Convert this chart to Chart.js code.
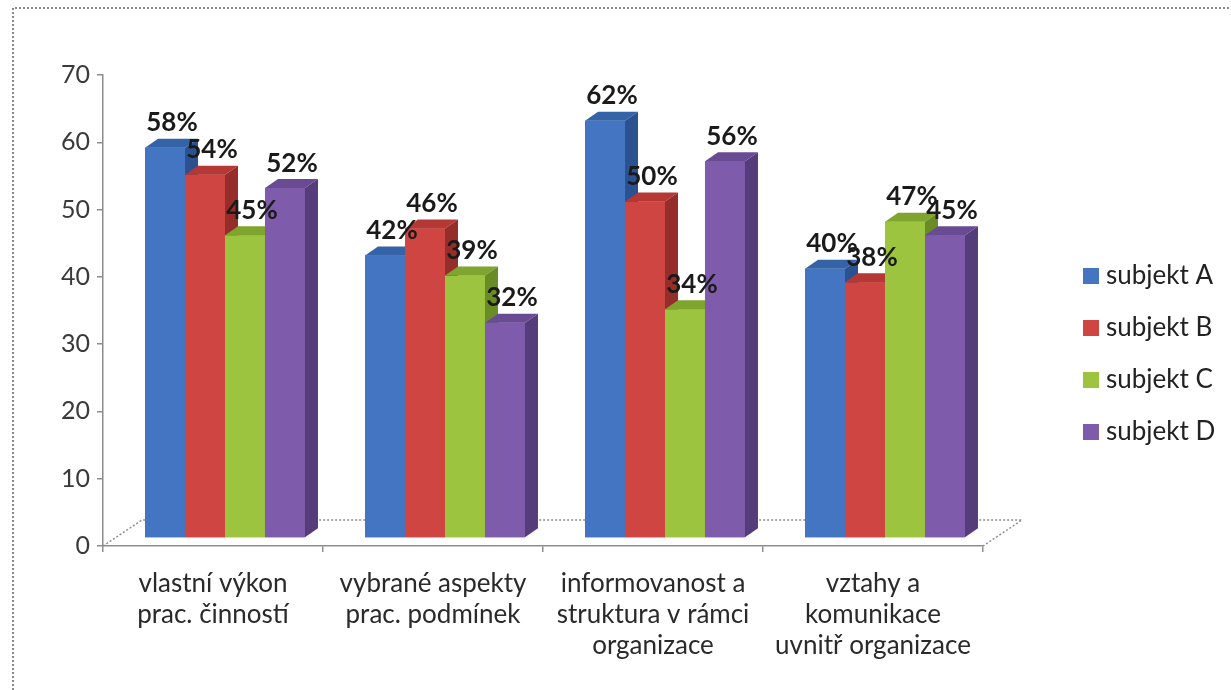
<!DOCTYPE html>
<html>
<head>
<meta charset="utf-8">
<script src="https://cdn.jsdelivr.net/npm/chart.js@4/dist/chart.umd.min.js"></script>
<style>
  html, body { margin: 0; padding: 0; background: #fff; }
  canvas { display: block; }
</style>
</head>
<body>
<canvas id="chart" width="1231" height="690"></canvas>
<script>
// categories (x axis, multi-line labels)
const categories = [
    ['vlastní výkon', 'prac. činností'],
    ['vybrané aspekty', 'prac. podmínek'],
    ['informovanost a', 'struktura v rámci', 'organizace'],
    ['vztahy a', 'komunikace', 'uvnitř organizace']
];

const seriesNames = ['subjekt A', 'subjekt B', 'subjekt C', 'subjekt D'];

// values
const subjektA = [58, 42, 62, 40];
const subjektB = [54, 46, 50, 38];
const subjektC = [45, 39, 34, 47];
const subjektD = [52, 32, 56, 45];

const yMin = 0;
const yMax = 70;
const yStep = 10;

// front / top / side colours for the fake 3D look
const palette = [
    { front: '#4475C2', top: '#3463A8', side: '#2B5190' },
    { front: '#CF4541', top: '#B53834', side: '#952D2A' },
    { front: '#9DC43F', top: '#7FA52E', side: '#6A8C26' },
    { front: '#7E5CAB', top: '#684B93', side: '#553C7B' }
];

const FONT = 'Lato, "Open Sans", sans-serif';

// depth of a bar, and how far bars sit behind the axis line
const depthX = 13, depthY = 9;
const shiftX = 12, shiftY = 8;
const floorX = 39, floorY = 26;

const bar3d = {
    id: 'bar3d',
    beforeDraw(chart) {
        const ctx = chart.ctx;
        // dotted frame round the chart
        ctx.save();
        ctx.strokeStyle = '#8a8a8a';
        ctx.lineWidth = 2;
        ctx.setLineDash([2, 2]);
        ctx.beginPath();
        ctx.moveTo(13, 690);
        ctx.lineTo(13, 8);
        ctx.lineTo(1231, 8);
        ctx.stroke();
        ctx.restore();
    },
    beforeDatasetsDraw(chart) {
        const { ctx, chartArea: a } = chart;
        // floor of the 3D plot
        ctx.save();
        ctx.strokeStyle = '#8e8e8e';
        ctx.lineWidth = 1.5;
        ctx.setLineDash([2, 2]);
        ctx.beginPath();
        ctx.moveTo(a.left, a.bottom);
        ctx.lineTo(a.left + floorX, a.bottom - floorY);
        ctx.lineTo(a.right + floorX, a.bottom - floorY);
        ctx.lineTo(a.right, a.bottom);
        ctx.stroke();
        ctx.restore();

        ctx.save();
        ctx.translate(shiftX, -shiftY);
    },
    afterDatasetsDraw(chart) {
        const ctx = chart.ctx;
        const nCat = chart.data.labels.length;
        const nSer = chart.data.datasets.length;

        // left-to-right painter order so each bar covers its neighbour's side
        for (let j = 0; j < nCat; j++) {
            for (let i = 0; i < nSer; i++) {
                const el = chart.getDatasetMeta(i).data[j];
                const { x, y, base, width } = el.getProps(['x', 'y', 'base', 'width'], true);
                const l = x - width / 2, r = x + width / 2;
                const c = palette[i];

                ctx.fillStyle = c.front;
                ctx.fillRect(l, y, width, base - y);

                ctx.fillStyle = c.top;
                ctx.beginPath();
                ctx.moveTo(l, y);
                ctx.lineTo(l + depthX, y - depthY);
                ctx.lineTo(r + depthX, y - depthY);
                ctx.lineTo(r, y);
                ctx.closePath();
                ctx.fill();

                ctx.fillStyle = c.side;
                ctx.beginPath();
                ctx.moveTo(r, y);
                ctx.lineTo(r + depthX, y - depthY);
                ctx.lineTo(r + depthX, base - depthY);
                ctx.lineTo(r, base);
                ctx.closePath();
                ctx.fill();
            }
        }
        ctx.restore();

        // percentage labels
        ctx.save();
        ctx.font = 'bold 26px ' + FONT;
        ctx.fillStyle = '#1a1a1a';
        ctx.textAlign = 'center';
        ctx.textBaseline = 'middle';
        for (let j = 0; j < nCat; j++) {
            for (let i = 0; i < nSer; i++) {
                const el = chart.getDatasetMeta(i).data[j];
                const v = chart.data.datasets[i].data[j];
                ctx.fillText(v + '%', el.x + shiftX + 7, el.y - shiftY - 25);
            }
        }
        ctx.restore();
    },
    afterDraw(chart) {
        const ctx = chart.ctx;
        // legend on the right
        ctx.save();
        ctx.font = '26px ' + FONT;
        ctx.textBaseline = 'middle';
        ctx.textAlign = 'left';
        seriesNames.forEach((name, i) => {
            const cy = 276 + i * 52;
            ctx.fillStyle = palette[i].front;
            ctx.fillRect(1083, cy - 8, 16, 16);
            ctx.fillStyle = '#222';
            ctx.fillText(name, 1106, cy);
        });
        ctx.restore();
    }
};

const ctx = document.getElementById('chart').getContext('2d');
new Chart(ctx, {
    type: 'bar',
    data: {
        labels: categories,
        datasets: [
            { label: seriesNames[0], data: subjektA, backgroundColor: palette[0].front },
            { label: seriesNames[1], data: subjektB, backgroundColor: palette[1].front },
            { label: seriesNames[2], data: subjektC, backgroundColor: palette[2].front },
            { label: seriesNames[3], data: subjektD, backgroundColor: palette[3].front }
        ]
    },
    options: {
        responsive: false,
        animation: false,
        layout: { padding: { left: 0, top: 75, right: 248, bottom: 0 } },
        datasets: { bar: { categoryPercentage: 0.727, barPercentage: 1.0 } },
        plugins: { legend: { display: false }, tooltip: { enabled: false } },
        scales: {
            x: {
                grid: { drawOnChartArea: false, tickLength: 6, color: '#8e8e8e', lineWidth: 1.5 },
                border: { color: '#8e8e8e', width: 1.5, dash: [2, 2] },
                ticks: {
                    font: { family: FONT, size: 26, lineHeight: 1.19 },
                    color: '#2a2a2a',
                    padding: 16,
                    maxRotation: 0
                },
                afterFit(scale) { scale.height = 144; }
            },
            y: {
                min: yMin,
                max: yMax,
                grid: { drawOnChartArea: false, tickLength: 6, color: '#8c8c8c', lineWidth: 1.5 },
                border: { color: '#8c8c8c', width: 1.5 },
                ticks: {
                    stepSize: yStep,
                    font: { family: FONT, size: 25 },
                    color: '#3a3a3a',
                    padding: 7
                },
                afterFit(scale) { scale.width = 103; }
            }
        }
    },
    plugins: [bar3d]
});
</script>
</body>
</html>
